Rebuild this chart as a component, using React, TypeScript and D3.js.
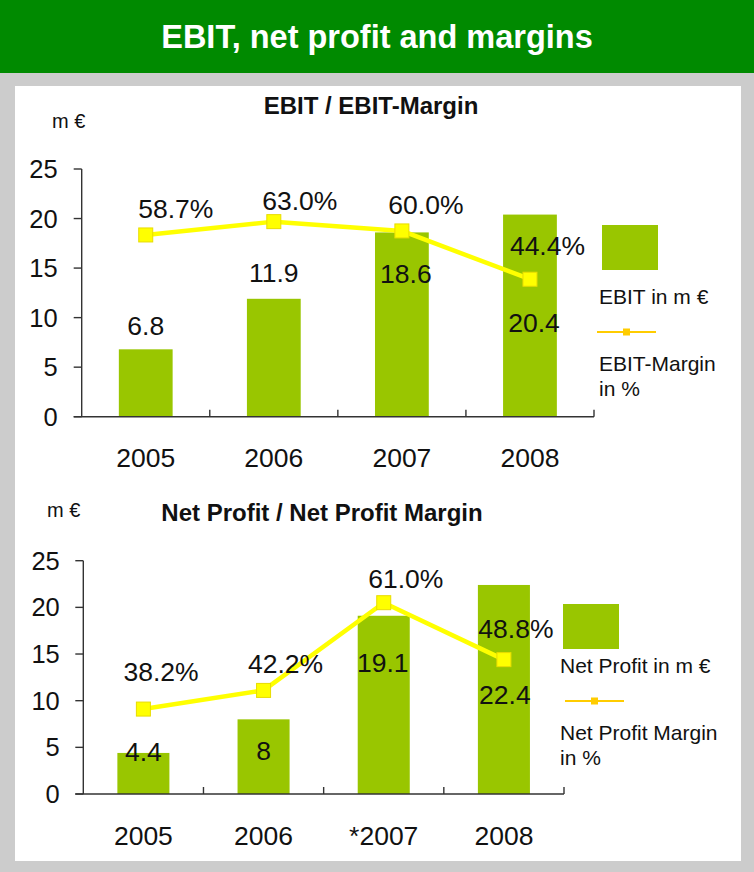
import React, { useEffect } from 'react';
import * as d3 from 'd3';

// ---- data ----
const ebitYears = ['2005', '2006', '2007', '2008'];
const netYears = ['2005', '2006', '*2007', '2008'];
const ebitValues = [6.8, 11.9, 18.6, 20.4];
const ebitMargins = [58.7, 63.0, 60.0, 44.4];
const netValues = [4.4, 8, 19.1, 22.4];
const netMargins = [38.2, 42.2, 61.0, 48.8];
const valueTicks = [0, 5, 10, 15, 20, 25];

// ---- label placement (in axis units / px offsets), separate from data ----
const ebitBarLabelAt = [8.25, 13.6, 13.5, 8.55];
const ebitBarLabelDx = [0, 0, 4, 4];
const ebitPctLabelAt = [20.07, 20.88, 20.47, 16.33];
const ebitPctLabelDx = [30, 26, 24, 17.5];
const netBarLabelAt = [3.54, 3.64, 13.07, 9.64];
const netBarLabelDx = [0, 0, -1, 1];
const netPctLabelAt = [12.1, 12.96, 22.07, 16.7];
const netPctLabelDx = [17.6, 22, 22, 12];

const FONT = "'Liberation Sans', Arial, Helvetica, sans-serif";
const BAR = '#99c600';
const LINE = '#ffff00';
const LEGEND_LINE = '#ffcc00';
const INK = '#111111';

type ChartProps = {
  cats: string[];
  bars: number[];
  margins: number[];
  pctDomain: [number, number];
  x0: number;
  x1: number;
  yBottom: number;
  yTop: number;
  barFrac: number;
  barFmt: (v: number) => string;
  barLabelAt: number[];
  barLabelDx: number[];
  pctLabelAt: number[];
  pctLabelDx: number[];
  title: string;
  titleX: number;
  titleY: number;
  unitX: number;
  unitY: number;
  legendX: number;
  legendBoxY: number;
  legend1: string;
  legend1Y: number;
  legendLineY: number;
  legendLineX0: number;
  legend2: string[];
  legend2Y: number;
  xLabelY: number;
  tickLabelGap: number;
};

function Chart(p: ChartProps) {
  const x = d3.scaleBand<string>().domain(p.cats).range([p.x0, p.x1]).padding(0);
  const y = d3.scaleLinear().domain([0, 25]).range([p.yBottom, p.yTop]);
  const y2 = d3.scaleLinear().domain(p.pctDomain).range([p.yBottom, p.yTop]);
  const bw = x.bandwidth() * p.barFrac;
  const cx = (c: string) => (x(c) as number) + x.bandwidth() / 2;
  const linePath = d3
    .line<number>()
    .x((_, i) => cx(p.cats[i]))
    .y((d) => y2(d))(p.margins) as string;
  const ms = 14;
  return (
    <g fontFamily={FONT}>
      {/* titles */}
      <text x={p.titleX} y={p.titleY} textAnchor="middle" fontWeight="bold" fontSize={24} fill={INK}>
        {p.title}
      </text>
      <text x={p.unitX} y={p.unitY} fontSize={20} fill={INK}>
        m €
      </text>
      {/* bars */}
      {p.bars.map((v, i) => (
        <rect
          key={'b' + i}
          x={cx(p.cats[i]) - bw / 2}
          y={y(v)}
          width={bw}
          height={y(0) - y(v)}
          fill={BAR}
        />
      ))}
      {/* axes */}
      <line x1={p.x0} x2={p.x0} y1={p.yTop} y2={p.yBottom} stroke="#333" strokeWidth={1.4} />
      <line x1={p.x0 - 8} x2={p.x1} y1={p.yBottom} y2={p.yBottom} stroke="#333" strokeWidth={1.4} />
      {valueTicks.map((t) => (
        <g key={'t' + t}>
          <line x1={p.x0 - 8} x2={p.x0} y1={y(t)} y2={y(t)} stroke="#333" strokeWidth={1.4} />
          <text x={p.x0 - p.tickLabelGap} y={y(t) + 9} textAnchor="end" fontSize={25.5} fill={INK}>
            {t}
          </text>
        </g>
      ))}
      {p.cats.map((c, i) => (
        <g key={'x' + i}>
          <line
            x1={(x(c) as number) + x.bandwidth()}
            x2={(x(c) as number) + x.bandwidth()}
            y1={p.yBottom}
            y2={p.yBottom - 7}
            stroke="#333"
            strokeWidth={1.4}
          />
          <text x={cx(c)} y={p.xLabelY} textAnchor="middle" fontSize={26.5} fill={INK}>
            {c}
          </text>
        </g>
      ))}
      {/* margin line */}
      <path d={linePath} fill="none" stroke={LINE} strokeWidth={4.5} strokeLinejoin="round" />
      {p.margins.map((m, i) => (
        <rect
          key={'m' + i}
          x={cx(p.cats[i]) - ms / 2}
          y={y2(m) - ms / 2}
          width={ms}
          height={ms}
          fill={LINE}
          stroke="#e8dc00"
          strokeWidth={1}
        />
      ))}
      {/* data labels */}
      {p.bars.map((v, i) => (
        <text
          key={'bl' + i}
          x={cx(p.cats[i]) + p.barLabelDx[i]}
          y={y(p.barLabelAt[i])}
          textAnchor="middle"
          fontSize={26.5}
          fill={INK}
        >
          {p.barFmt(v)}
        </text>
      ))}
      {p.margins.map((m, i) => (
        <text
          key={'pl' + i}
          x={cx(p.cats[i]) + p.pctLabelDx[i]}
          y={y(p.pctLabelAt[i])}
          textAnchor="middle"
          fontSize={26.5}
          fill={INK}
        >
          {m.toFixed(1) + '%'}
        </text>
      ))}
      {/* legend */}
      <rect x={p.legendX + 3} y={p.legendBoxY} width={56} height={45} fill={BAR} />
      <text x={p.legendX} y={p.legend1Y} fontSize={21} fill={INK}>
        {p.legend1}
      </text>
      <line
        x1={p.legendLineX0}
        x2={p.legendLineX0 + 59}
        y1={p.legendLineY}
        y2={p.legendLineY}
        stroke={LEGEND_LINE}
        strokeWidth={2}
      />
      <rect x={p.legendLineX0 + 26} y={p.legendLineY - 3.5} width={7} height={7} fill={LEGEND_LINE} />
      {p.legend2.map((s, i) => (
        <text key={'lg' + i} x={p.legendX} y={p.legend2Y + i * 24.5} fontSize={21} fill={INK}>
          {s}
        </text>
      ))}
    </g>
  );
}

export default function App() {
  useEffect(() => {
    document.body.style.margin = '0';
  }, []);
  return (
    <svg
      width={754}
      height={872}
      viewBox="0 0 754 872"
      style={{ position: 'absolute', left: 0, top: 0, display: 'block' }}
    >
      <rect x={0} y={0} width={754} height={872} fill="#cccccc" />
      <rect x={0} y={0} width={754} height={73} fill="#008a00" />
      <text
        x={377}
        y={48}
        textAnchor="middle"
        fontFamily={FONT}
        fontWeight="bold"
        fontSize={32.5}
        fill="#ffffff"
      >
        EBIT, net profit and margins
      </text>
      <rect x={15} y={86} width={726} height={775} fill="#ffffff" />
      <Chart
        cats={ebitYears}
        bars={ebitValues}
        margins={ebitMargins}
        pctDomain={[0, 80]}
        x0={81.7}
        x1={594}
        yBottom={416.7}
        yTop={169}
        barFrac={0.42}
        barFmt={(v) => v.toFixed(1)}
        barLabelAt={ebitBarLabelAt}
        barLabelDx={ebitBarLabelDx}
        pctLabelAt={ebitPctLabelAt}
        pctLabelDx={ebitPctLabelDx}
        title="EBIT / EBIT-Margin"
        titleX={371}
        titleY={114}
        unitX={52}
        unitY={128}
        legendX={599}
        legendBoxY={225}
        legend1="EBIT in m €"
        legend1Y={304}
        legendLineY={332}
        legendLineX0={597}
        legend2={['EBIT-Margin', 'in %']}
        legend2Y={371}
        xLabelY={467}
        tickLabelGap={24}
      />
      <Chart
        cats={netYears}
        bars={netValues}
        margins={netMargins}
        pctDomain={[20, 70]}
        x0={83.3}
        x1={564}
        yBottom={794}
        yTop={560.7}
        barFrac={0.433}
        barFmt={(v) => String(v)}
        barLabelAt={netBarLabelAt}
        barLabelDx={netBarLabelDx}
        pctLabelAt={netPctLabelAt}
        pctLabelDx={netPctLabelDx}
        title="Net Profit / Net Profit Margin"
        titleX={322}
        titleY={521}
        unitX={47}
        unitY={517}
        legendX={560}
        legendBoxY={604}
        legend1="Net Profit in m €"
        legend1Y={673}
        legendLineY={701}
        legendLineX0={565}
        legend2={['Net Profit Margin', 'in %']}
        legend2Y={740}
        xLabelY={845}
        tickLabelGap={23.5}
      />
    </svg>
  );
}
